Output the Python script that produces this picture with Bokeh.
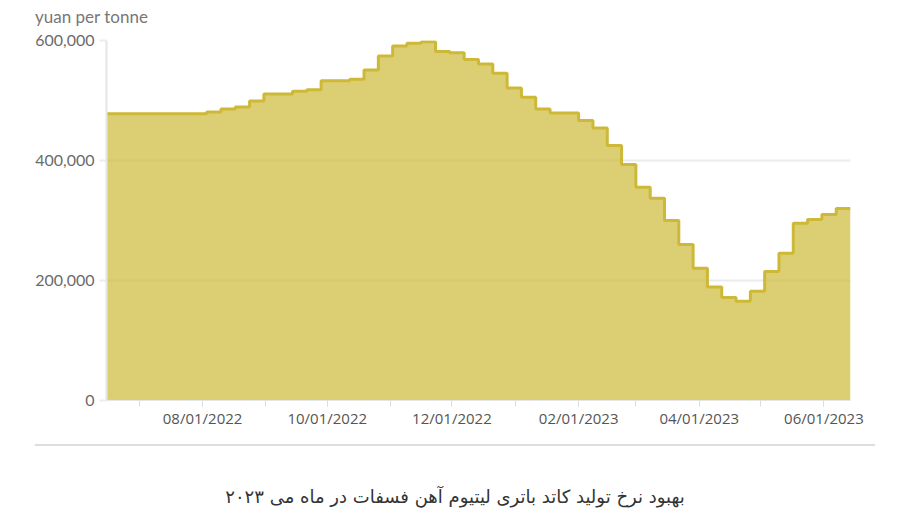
from datetime import datetime, timedelta
from bokeh.plotting import figure
from bokeh.models import (Range1d, FixedTicker, DatetimeTickFormatter,
                          NumeralTickFormatter, Div)
from bokeh.layouts import column
from bokeh.embed import file_html
from bokeh.resources import INLINE

# Weekly price points (Wednesdays), yuan per tonne
start_date = datetime(2022, 6, 15)
prices = [
    478000, 478000, 478000, 478000, 478000, 478000, 478000,   # 06/15 - 07/27
    481000, 486000, 489000, 499000, 511000, 511000, 515500,   # 08/03 - 09/14
    518000, 533000, 533000, 535500, 551000, 574000, 591000,   # 09/21 - 11/02
    595500, 598000, 581500, 579500, 568500, 561000, 545500,   # 11/09 - 12/21
    521000, 505500, 486000, 479000, 479000, 466500, 454000,   # 12/28 - 02/08
    425000, 393500, 355500, 337000, 300000, 260000, 220500,   # 02/15 - 03/29
    189000, 171500, 165500, 182000, 215000, 245500, 295500,   # 04/05 - 05/17
    301700, 310000, 320000, 320000,                           # 05/24 - 06/14
]
dates = [start_date + timedelta(days=7 * i) for i in range(len(prices))]

y_ticks = [0, 200000, 400000, 600000]
month_ticks = [datetime(2022, m, 1) for m in range(7, 13)] + \
              [datetime(2023, m, 1) for m in range(1, 7)]
label_months = [d for d in month_ticks if d.month % 2 == 0]

caption = "بهبود نرخ تولید کاتد باتری لیتیوم آهن فسفات در ماه می ۲۰۲۳"
unit_label = "yuan per tonne"

def ms(d):
    return (d - datetime(1970, 1, 1)).total_seconds() * 1000.0

LINE = "#cdb937"
GRID = "#ebebeb"

p = figure(width=880, height=412, x_axis_type="datetime",
           output_backend="svg", toolbar_location=None,
           min_border_left=106, min_border_right=30,
           min_border_top=12, min_border_bottom=40,
           x_range=Range1d(start_date, datetime(2023, 6, 14)),
           y_range=Range1d(0, 600000))
p.outline_line_color = None
p.background_fill_color = "white"
p.border_fill_color = "white"

p.varea_step(x=dates, y1=[0] * len(prices), y2=prices, step_mode="after",
             fill_color=LINE, fill_alpha=0.7)
p.step(x=dates, y=prices, mode="after", line_color=LINE, line_width=3)

# grid
p.xgrid.grid_line_color = None
p.ygrid.grid_line_color = GRID
p.ygrid.grid_line_width = 2

# y axis
p.yaxis.ticker = FixedTicker(ticks=y_ticks)
p.yaxis.formatter = NumeralTickFormatter(format="0,0")
p.yaxis.axis_line_color = "#e6e6e6"
p.yaxis.axis_line_width = 2
p.yaxis.major_tick_line_color = GRID
p.yaxis.major_tick_line_width = 2
p.yaxis.major_tick_out = 7
p.yaxis.major_tick_in = 0
p.yaxis.minor_tick_line_color = None
p.yaxis.major_label_standoff = 5
p.yaxis.major_label_text_font = "Lato"
p.yaxis.major_label_text_font_size = "16px"
p.yaxis.major_label_text_color = "#6b6b6b"

# x axis
p.xaxis.ticker = FixedTicker(ticks=[ms(d) for d in label_months],
                             minor_ticks=[ms(d) for d in month_ticks])
fmt = "%m/%d/%Y"
p.xaxis.formatter = DatetimeTickFormatter(
    microseconds=fmt, milliseconds=fmt, seconds=fmt, minsec=fmt,
    minutes=fmt, hourmin=fmt, hours=fmt, days=fmt, months=fmt, years=fmt)
p.xaxis.axis_line_color = "#e6e6e6"
p.xaxis.axis_line_width = 1
p.xaxis.major_tick_line_color = "#dddddd"
p.xaxis.minor_tick_line_color = "#dddddd"
p.xaxis.major_tick_out = 6
p.xaxis.major_tick_in = 0
p.xaxis.minor_tick_out = 6
p.xaxis.minor_tick_in = 0
p.xaxis.major_label_standoff = 1
p.xaxis.major_label_text_font = "Open Sans"
p.xaxis.major_label_text_font_size = "15px"
p.xaxis.major_label_text_color = "#555555"

top = Div(text=f'<div style="font-family:\'Lato\',sans-serif;font-size:17px;'
               f'color:#777;line-height:20px;white-space:nowrap;'
               f'padding:7px 0 0 35px;">{unit_label}</div>',
          width=400, height=28, margin=(0, 0, 0, 0))

bottom = Div(text=f'<div style="margin-left:35px;width:840px;'
                  f'border-top:2px solid #dddddd;margin-top:4px;'
                  f'padding-top:39px;text-align:center;direction:rtl;'
                  f'font-family:\'DejaVu Sans\',sans-serif;font-size:18px;'
                  f'color:#333;line-height:24px;">{caption}</div>',
             width=890, height=72, margin=(0, 0, 0, 0))

layout = column(top, p, bottom, spacing=0)

open("out.html", "w").write(file_html(layout, INLINE))
